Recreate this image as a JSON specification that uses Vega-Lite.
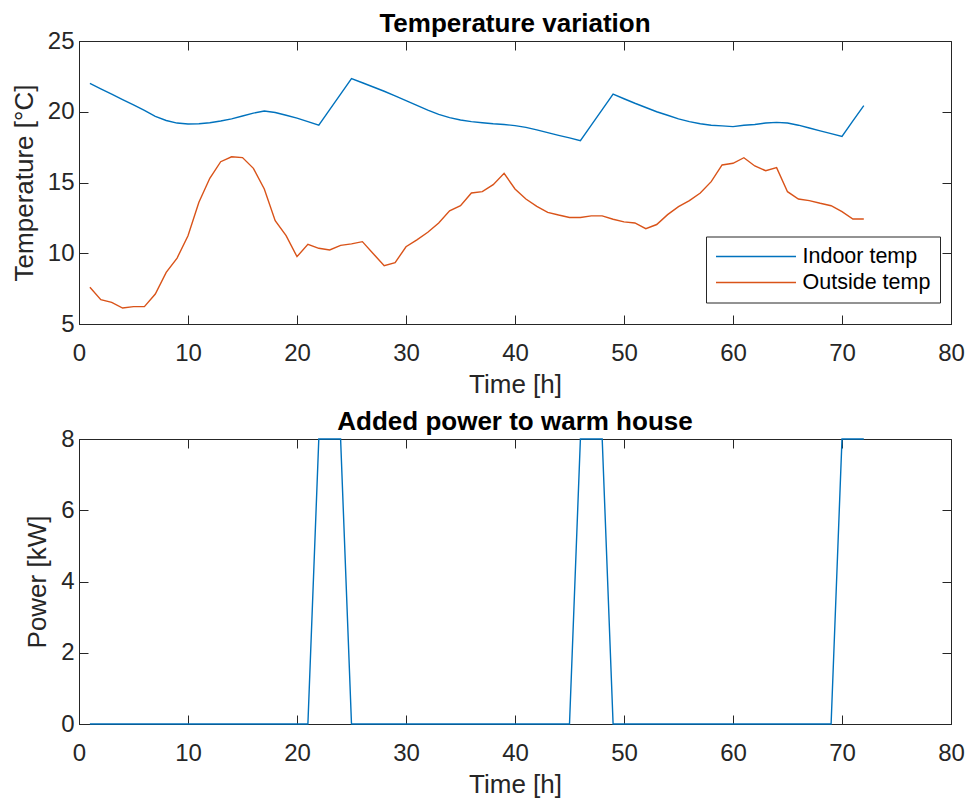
{
  "$schema": "https://vega.github.io/schema/vega-lite/v6.json",
  "padding": {"left": 10, "top": 10, "right": 2, "bottom": 2},
  "background": "white",
  "spacing": 115,
  "bounds": "flush",
  "data": {"values": [
    {"t":1,"Indoor temp":22.0,"Outside temp":7.6,"power":0},
    {"t":2,"Indoor temp":21.62,"Outside temp":6.72,"power":0},
    {"t":3,"Indoor temp":21.24,"Outside temp":6.53,"power":0},
    {"t":4,"Indoor temp":20.86,"Outside temp":6.13,"power":0},
    {"t":5,"Indoor temp":20.48,"Outside temp":6.23,"power":0},
    {"t":6,"Indoor temp":20.1,"Outside temp":6.23,"power":0},
    {"t":7,"Indoor temp":19.68,"Outside temp":7.12,"power":0},
    {"t":8,"Indoor temp":19.38,"Outside temp":8.65,"power":0},
    {"t":9,"Indoor temp":19.2,"Outside temp":9.66,"power":0},
    {"t":10,"Indoor temp":19.13,"Outside temp":11.24,"power":0},
    {"t":11,"Indoor temp":19.15,"Outside temp":13.6,"power":0},
    {"t":12,"Indoor temp":19.22,"Outside temp":15.3,"power":0},
    {"t":13,"Indoor temp":19.35,"Outside temp":16.47,"power":0},
    {"t":14,"Indoor temp":19.5,"Outside temp":16.82,"power":0},
    {"t":15,"Indoor temp":19.7,"Outside temp":16.76,"power":0},
    {"t":16,"Indoor temp":19.9,"Outside temp":16.0,"power":0},
    {"t":17,"Indoor temp":20.05,"Outside temp":14.54,"power":0},
    {"t":18,"Indoor temp":19.95,"Outside temp":12.3,"power":0},
    {"t":19,"Indoor temp":19.75,"Outside temp":11.24,"power":0},
    {"t":20,"Indoor temp":19.55,"Outside temp":9.76,"power":0},
    {"t":21,"Indoor temp":19.3,"Outside temp":10.63,"power":0},
    {"t":22,"Indoor temp":19.05,"Outside temp":10.35,"power":8},
    {"t":23,"Indoor temp":20.15,"Outside temp":10.23,"power":8},
    {"t":24,"Indoor temp":21.25,"Outside temp":10.56,"power":8},
    {"t":25,"Indoor temp":22.35,"Outside temp":10.66,"power":0},
    {"t":26,"Indoor temp":22.05,"Outside temp":10.82,"power":0},
    {"t":27,"Indoor temp":21.75,"Outside temp":9.97,"power":0},
    {"t":28,"Indoor temp":21.45,"Outside temp":9.12,"power":0},
    {"t":29,"Indoor temp":21.12,"Outside temp":9.33,"power":0},
    {"t":30,"Indoor temp":20.78,"Outside temp":10.46,"power":0},
    {"t":31,"Indoor temp":20.45,"Outside temp":10.95,"power":0},
    {"t":32,"Indoor temp":20.12,"Outside temp":11.48,"power":0},
    {"t":33,"Indoor temp":19.82,"Outside temp":12.14,"power":0},
    {"t":34,"Indoor temp":19.58,"Outside temp":13.0,"power":0},
    {"t":35,"Indoor temp":19.42,"Outside temp":13.36,"power":0},
    {"t":36,"Indoor temp":19.3,"Outside temp":14.26,"power":0},
    {"t":37,"Indoor temp":19.22,"Outside temp":14.35,"power":0},
    {"t":38,"Indoor temp":19.15,"Outside temp":14.85,"power":0},
    {"t":39,"Indoor temp":19.1,"Outside temp":15.65,"power":0},
    {"t":40,"Indoor temp":19.02,"Outside temp":14.54,"power":0},
    {"t":41,"Indoor temp":18.9,"Outside temp":13.83,"power":0},
    {"t":42,"Indoor temp":18.72,"Outside temp":13.31,"power":0},
    {"t":43,"Indoor temp":18.52,"Outside temp":12.89,"power":0},
    {"t":44,"Indoor temp":18.33,"Outside temp":12.7,"power":0},
    {"t":45,"Indoor temp":18.15,"Outside temp":12.53,"power":0},
    {"t":46,"Indoor temp":17.95,"Outside temp":12.53,"power":8},
    {"t":47,"Indoor temp":19.05,"Outside temp":12.64,"power":8},
    {"t":48,"Indoor temp":20.15,"Outside temp":12.64,"power":8},
    {"t":49,"Indoor temp":21.25,"Outside temp":12.4,"power":0},
    {"t":50,"Indoor temp":20.92,"Outside temp":12.22,"power":0},
    {"t":51,"Indoor temp":20.6,"Outside temp":12.14,"power":0},
    {"t":52,"Indoor temp":20.3,"Outside temp":11.74,"power":0},
    {"t":53,"Indoor temp":20.0,"Outside temp":12.03,"power":0},
    {"t":54,"Indoor temp":19.75,"Outside temp":12.73,"power":0},
    {"t":55,"Indoor temp":19.5,"Outside temp":13.29,"power":0},
    {"t":56,"Indoor temp":19.3,"Outside temp":13.72,"power":0},
    {"t":57,"Indoor temp":19.15,"Outside temp":14.26,"power":0},
    {"t":58,"Indoor temp":19.05,"Outside temp":15.06,"power":0},
    {"t":59,"Indoor temp":19.0,"Outside temp":16.24,"power":0},
    {"t":60,"Indoor temp":18.95,"Outside temp":16.36,"power":0},
    {"t":61,"Indoor temp":19.05,"Outside temp":16.75,"power":0},
    {"t":62,"Indoor temp":19.1,"Outside temp":16.17,"power":0},
    {"t":63,"Indoor temp":19.2,"Outside temp":15.83,"power":0},
    {"t":64,"Indoor temp":19.25,"Outside temp":16.05,"power":0},
    {"t":65,"Indoor temp":19.2,"Outside temp":14.35,"power":0},
    {"t":66,"Indoor temp":19.05,"Outside temp":13.83,"power":0},
    {"t":67,"Indoor temp":18.85,"Outside temp":13.72,"power":0},
    {"t":68,"Indoor temp":18.65,"Outside temp":13.53,"power":0},
    {"t":69,"Indoor temp":18.45,"Outside temp":13.36,"power":0},
    {"t":70,"Indoor temp":18.25,"Outside temp":12.94,"power":8},
    {"t":71,"Indoor temp":19.35,"Outside temp":12.42,"power":8},
    {"t":72,"Indoor temp":20.43,"Outside temp":12.42,"power":8}
  ]},
  "config": {
    "view": {"stroke": "#262626", "strokeWidth": 1},
    "axis": {
      "domainColor": "#262626", "tickColor": "#262626", "labelColor": "#262626", "titleColor": "#262626",
      "labelFont": "Liberation Sans", "titleFont": "Liberation Sans",
      "labelFontSize": 24, "titleFontSize": 26, "titleFontWeight": "normal",
      "grid": false, "tickSize": -9, "tickWidth": 1, "domainWidth": 1, "labelFlush": false
    },
    "axisX": {"labelPadding": 26, "titlePadding": 6},
    "axisY": {"labelPadding": 14, "titlePadding": 10},
    "title": {"font": "Liberation Sans", "fontSize": 26, "fontWeight": "bold", "color": "black", "offset": -8}
  },
  "vconcat": [
    {
      "width": 872, "height": 283,
      "title": "Temperature variation",
      "transform": [{"fold": ["Indoor temp", "Outside temp"], "as": ["series", "value"]}],
      "layer": [
        {
          "mark": {"type": "line", "strokeWidth": 1.4},
          "encoding": {
            "x": {"field": "t", "type": "quantitative", "scale": {"domain": [0, 80], "nice": false},
                  "axis": {"title": "Time [h]", "values": [0,10,20,30,40,50,60,70,80]}},
            "y": {"field": "value", "type": "quantitative", "scale": {"domain": [5, 25], "nice": false, "zero": false},
                  "axis": {"title": "Temperature [°C]", "values": [5,10,15,20,25]}},
            "color": {"field": "series", "type": "nominal",
                      "scale": {"domain": ["Indoor temp", "Outside temp"], "range": ["#0072BD", "#D95319"]},
                      "legend": {"title": null, "orient": "none", "legendX": 627, "legendY": 195.5,
                                 "symbolType": "M-1,0H7", "symbolSize": 400, "symbolStrokeWidth": 1.4,
                                 "labelFont": "Liberation Sans", "labelFontSize": 21.5, "labelColor": "black",
                                 "strokeColor": "#262626", "fillColor": "white", "padding": 9, "rowPadding": 4, "labelOffset": 65.5}}
          }
        },
        {
          "mark": {"type": "line", "opacity": 0},
          "encoding": {
            "x": {"field": "t", "type": "quantitative", "scale": {"domain": [0, 80], "nice": false},
                  "axis": {"orient": "top", "title": null, "labels": false, "domain": false, "values": [0,10,20,30,40,50,60,70,80]}},
            "y": {"field": "value", "type": "quantitative", "scale": {"domain": [5, 25], "nice": false, "zero": false},
                  "axis": {"orient": "right", "title": null, "labels": false, "domain": false, "values": [5,10,15,20,25]}},
            "detail": {"field": "series"}
          }
        }
      ],
      "resolve": {"scale": {"x": "independent", "y": "independent"}}
    },
    {
      "width": 872, "height": 285,
      "title": "Added power to warm house",
      "layer": [
        {
          "mark": {"type": "line", "strokeWidth": 1.4, "color": "#0072BD"},
          "encoding": {
            "x": {"field": "t", "type": "quantitative", "scale": {"domain": [0, 80], "nice": false},
                  "axis": {"title": "Time [h]", "values": [0,10,20,30,40,50,60,70,80]}},
            "y": {"field": "power", "type": "quantitative", "scale": {"domain": [0, 8], "nice": false},
                  "axis": {"title": "Power [kW]", "values": [0,2,4,6,8]}}
          }
        },
        {
          "mark": {"type": "line", "opacity": 0},
          "encoding": {
            "x": {"field": "t", "type": "quantitative", "scale": {"domain": [0, 80], "nice": false},
                  "axis": {"orient": "top", "title": null, "labels": false, "domain": false, "values": [0,10,20,30,40,50,60,70,80]}},
            "y": {"field": "power", "type": "quantitative", "scale": {"domain": [0, 8], "nice": false},
                  "axis": {"orient": "right", "title": null, "labels": false, "domain": false, "values": [0,2,4,6,8]}}
          }
        }
      ],
      "resolve": {"scale": {"x": "independent", "y": "independent"}}
    }
  ]
}
